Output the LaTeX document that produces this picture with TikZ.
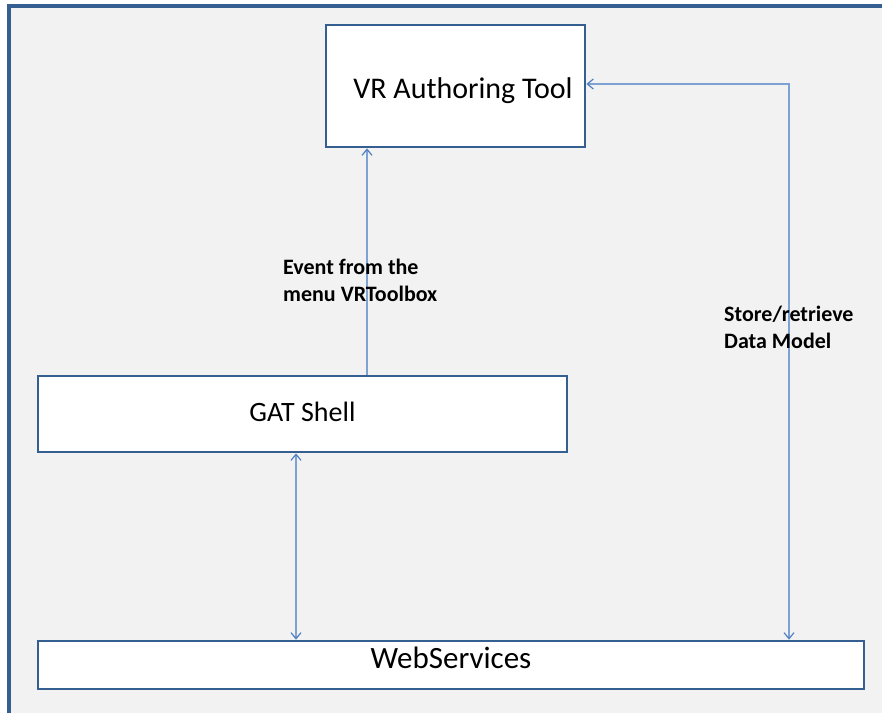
\documentclass[tikz,border=0pt]{standalone}
\usepackage{fontspec}
\setmainfont{Carlito}
\usetikzlibrary{arrows.meta}
\definecolor{framec}{HTML}{365F91}
\definecolor{panel}{HTML}{F2F2F2}
\definecolor{linkc}{HTML}{7FA2D4}
\definecolor{headc}{HTML}{4F7FC0}
% place a caption with its baseline #1 below the node centre
\newcommand{\basedrop}[2]{\raisebox{-#1}[0pt][0pt]{#2}}
\tikzset{
  box/.style={draw=framec, fill=white, line width=2.8pt, inner sep=0pt},
  conn/.style={draw=linkc, line width=1.4pt,
    arrows={-}, >={Straight Barb[length=6pt,width=10pt,line width=1.2pt,color=headc]}},
  note/.style={align=left, inner sep=0pt, font=\bfseries\fontsize{22}{27}\selectfont},
}
\begin{document}
\begin{tikzpicture}[x=1pt,y=-1pt]
  \useasboundingbox (0,0) rectangle (882,713);
  % panel with its top and left frame
  \fill[panel] (9,6) rectangle (882,713);
  \draw[framec, line width=3.5pt] (9,713) -- (9,6) -- (882,6);

  % blocks
  \node[box, minimum width=259pt, minimum height=122pt, font=\fontsize{30}{34}\selectfont] (vr) at (455.5,86)
    {\hspace{15pt}\basedrop{12pt}{VR Authoring Tool}};
  \node[box, minimum width=529pt, minimum height=76pt, font=\fontsize{28}{32}\selectfont] (gat) at (302.5,414)
    {\basedrop{7pt}{GAT Shell}};
  \node[box, minimum width=826pt, minimum height=48pt, font=\fontsize{31}{34}\selectfont] (web) at (451,665)
    {\basedrop{3pt}{WebServices}};

  % x positions of the vertical links
  \coordinate (xevent) at (367,0);
  \coordinate (xstore) at (789,0);
  \coordinate (xshell) at (296,0);

  % links
  \draw[conn,->] (gat.north -| xevent) -- (vr.south -| xevent);
  \draw[conn,<->] ([yshift=2pt]vr.east) -| (web.north -| xstore);
  \draw[conn,<->] (gat.south -| xshell) -- (web.north -| xshell);

  % link labels
  \node[note, anchor=west] (evlabel) at (283,280) {Event from the\\menu VRToolbox};
  \node[note, anchor=west] (stlabel) at (724,327) {Store/retrieve\\Data Model};
\end{tikzpicture}
\end{document}
